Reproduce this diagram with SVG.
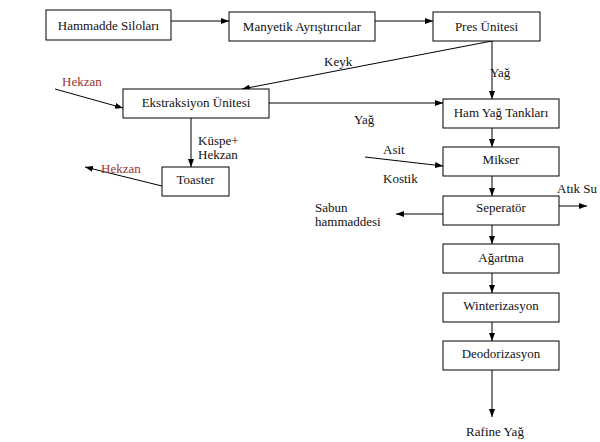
<svg xmlns="http://www.w3.org/2000/svg" width="600" height="442" viewBox="0 0 600 442">
<style>
.box{fill:#fff;stroke:#000;stroke-width:1}
.t{font-family:'Liberation Serif','Tinos','DejaVu Serif',serif;font-size:13px;fill:#111}
.c{text-anchor:middle}
.red{fill:#9a3530}
.ln{stroke:#000;stroke-width:1;fill:none;marker-end:url(#ah)}
</style>
<defs>
<marker id="ah" markerUnits="userSpaceOnUse" markerWidth="8" markerHeight="8" viewBox="0 0 8 8" refX="8" refY="4" orient="auto">
<path d="M0,1 L8,4 L0,7 Z" fill="#000"/>
</marker>
</defs>
<rect width="600" height="442" fill="#fff"/>
<g id="connectors">
<line class="ln" x1="171" y1="21" x2="229" y2="21"/>
<line class="ln" x1="375" y1="21" x2="433" y2="21"/>
<line class="ln" x1="492" y1="41" x2="242" y2="89"/>
<line class="ln" x1="55" y1="89" x2="123" y2="108"/>
<line class="ln" x1="269" y1="103" x2="443" y2="103"/>
<line class="ln" x1="492" y1="41" x2="492" y2="99"/>
<line class="ln" x1="191" y1="118" x2="191" y2="167"/>
<line class="ln" x1="162" y1="186" x2="85" y2="167"/>
<line class="ln" x1="492" y1="128" x2="492" y2="147"/>
<line class="ln" x1="365" y1="157" x2="443" y2="166"/>
<line class="ln" x1="492" y1="176" x2="492" y2="196"/>
<line class="ln" x1="559" y1="206" x2="587" y2="206"/>
<line class="ln" x1="443" y1="214" x2="396" y2="214"/>
<line class="ln" x1="492" y1="225" x2="492" y2="244"/>
<line class="ln" x1="492" y1="273" x2="492" y2="293"/>
<line class="ln" x1="492" y1="322" x2="492" y2="341"/>
<line class="ln" x1="492" y1="370" x2="492" y2="417"/>
</g>
<g id="labels">
<text class="t" x="324" y="66">Keyk</text>
<text class="t" x="490" y="77">Yağ</text>
<text class="t" x="354" y="124">Yağ</text>
<text class="t red" x="62" y="86">Hekzan</text>
<text class="t red" x="101" y="173">Hekzan</text>
<text class="t" x="198" y="144.5">Küspe+</text>
<text class="t" x="198" y="159">Hekzan</text>
<text class="t" x="383" y="154">Asit</text>
<text class="t" x="383" y="183">Kostik</text>
<text class="t" x="557" y="193">Atık Su</text>
<text class="t" x="315" y="211.5">Sabun</text>
<text class="t" x="315" y="226">hammaddesi</text>
<text class="t c" x="495" y="436">Rafine Yağ</text>
</g>
<g id="hammadde"><rect class="box" x="46" y="10" width="125" height="30"/><text class="t c" x="108.5" y="29.5">Hammadde Siloları</text></g>
<g id="manyetik"><rect class="box" x="229" y="12" width="146" height="29"/><text class="t c" x="302" y="30.5">Manyetik Ayrıştırıcılar</text></g>
<g id="pres"><rect class="box" x="433" y="12" width="107" height="29"/><text class="t c" x="486.5" y="30.5">Pres Ünitesi</text></g>
<g id="ekstraksiyon"><rect class="box" x="123" y="89" width="146" height="29"/><text class="t c" x="196" y="106.5">Ekstraksiyon Ünitesi</text></g>
<g id="toaster"><rect class="box" x="162" y="167" width="67" height="29"/><text class="t c" x="195.5" y="183.5">Toaster</text></g>
<g id="hamyag"><rect class="box" x="443" y="99" width="116" height="29"/><text class="t c" x="501" y="116.5">Ham Yağ Tankları</text></g>
<g id="mikser"><rect class="box" x="443" y="147" width="116" height="29"/><text class="t c" x="501" y="163.5">Mikser</text></g>
<g id="seperator"><rect class="box" x="443" y="196" width="116" height="29"/><text class="t c" x="501" y="211.5">Seperatör</text></g>
<g id="agartma"><rect class="box" x="443" y="244" width="116" height="29"/><text class="t c" x="501" y="261.5">Ağartma</text></g>
<g id="winterizasyon"><rect class="box" x="443" y="293" width="116" height="29"/><text class="t c" x="501" y="309.5">Winterizasyon</text></g>
<g id="deodorizasyon"><rect class="box" x="443" y="341" width="116" height="29"/><text class="t c" x="501" y="357.5">Deodorizasyon</text></g>
</svg>
